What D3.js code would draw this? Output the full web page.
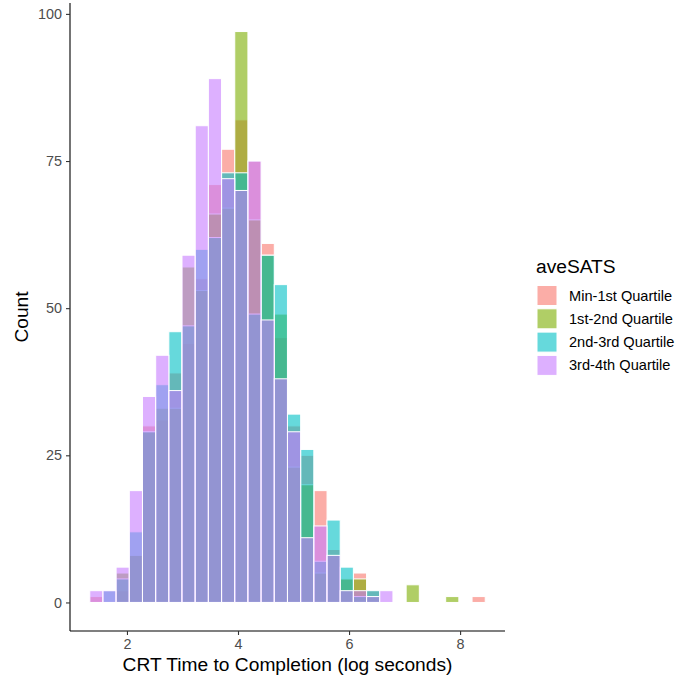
<!DOCTYPE html>
<html>
<head>
<meta charset="utf-8">
<script src="https://cdn.jsdelivr.net/npm/d3@7"></script>
<style>
  html, body { margin: 0; padding: 0; background: #ffffff; }
  svg { display: block; font-family: "Liberation Sans", Arial, Helvetica, sans-serif; }
</style>
</head>
<body>
<svg id="chart" width="676" height="683"></svg>
<script>
// Histogram bins (log seconds): 30 equal-width bins
const binWidth = 0.2374;
const binCenters = [1.449, 1.686, 1.923, 2.161, 2.398, 2.636, 2.873, 3.110, 3.348, 3.585,
                    3.823, 4.060, 4.298, 4.535, 4.772, 5.010, 5.247, 5.485, 5.722, 5.959,
                    6.197, 6.434, 6.672, 6.909, 7.147, 7.384, 7.621, 7.859, 8.096, 8.334];

// Counts per bin for each aveSATS group
const minTo1st   = [1, 0, 2, 8, 30, 31, 39, 44, 55, 71, 77, 82, 75, 61, 45, 30, 25, 19, 9, 4, 5, 2, 0, 0, 0, 0, 0, 0, 0, 1];
const first2nd   = [0, 0, 5, 8, 29, 33, 33, 57, 53, 66, 67, 97, 65, 59, 49, 23, 20, 5, 8, 4, 4, 1, 0, 0, 3, 0, 0, 1, 0, 0];
const second3rd  = [0, 2, 4, 12, 29, 37, 46, 47, 60, 62, 73, 73, 49, 59, 54, 32, 26, 7, 14, 6, 1, 2, 0, 0, 0, 0, 0, 0, 0, 0];
const third4th   = [2, 2, 6, 19, 35, 42, 36, 59, 81, 89, 72, 70, 75, 48, 38, 29, 11, 13, 8, 2, 2, 1, 2, 0, 0, 0, 0, 0, 0, 0];

const groupNames  = ["Min-1st Quartile", "1st-2nd Quartile", "2nd-3rd Quartile", "3rd-4th Quartile"];
const groupCounts = [minTo1st, first2nd, second3rd, third4th];
const groupColors = ["#F8766D", "#7CAE00", "#00BFC4", "#C77CFF"];

const xTicks = [2, 4, 6, 8];
const yTicks = [0, 25, 50, 75, 100];

const svg = d3.select("#chart");

// Panel extent
const panel = { left: 70, right: 505, top: 3, bottom: 631 };

const xMin = binCenters[0] - binWidth / 2;
const xMax = binCenters[binCenters.length - 1] + binWidth / 2;
const xPad = (xMax - xMin) * 0.05;
const yMax = d3.max(groupCounts.flat());
const yPad = yMax * 0.05;

const x = d3.scaleLinear().domain([xMin - xPad, xMax + xPad]).range([panel.left, panel.right]);
const y = d3.scaleLinear().domain([-yPad, yMax + yPad]).range([panel.bottom, panel.top]);

const color = d3.scaleOrdinal().domain(groupNames).range(groupColors);

// Overlapping bars, drawn group by group
const bars = svg.append("g");
groupNames.forEach((name, gi) => {
  const rows = binCenters.map((c, i) => ({ c, n: groupCounts[gi][i] })).filter(d => d.n > 0);
  bars.append("g")
    .selectAll("rect")
    .data(rows)
    .join("rect")
    .attr("x", d => x(d.c - binWidth / 2))
    .attr("width", d => x(d.c + binWidth / 2) - x(d.c - binWidth / 2))
    .attr("y", d => y(d.n))
    .attr("height", d => y(0) - y(d.n))
    .attr("fill", color(name))
    .attr("fill-opacity", 0.6)
    .attr("stroke", "#ffffff")
    .attr("stroke-width", 1);
});

// Axes
const xAxis = svg.append("g")
  .attr("transform", `translate(0,${panel.bottom})`)
  .call(d3.axisBottom(x).tickValues(xTicks).tickFormat(d3.format("d")).tickSizeOuter(0).tickSize(4).tickPadding(4));
const yAxis = svg.append("g")
  .attr("transform", `translate(${panel.left},0)`)
  .call(d3.axisLeft(y).tickValues(yTicks).tickFormat(d3.format("d")).tickSizeOuter(0).tickSize(4).tickPadding(4));

[xAxis, yAxis].forEach(a => {
  a.select(".domain").attr("stroke", "#000000").attr("stroke-width", 1.1);
  a.selectAll(".tick line").attr("stroke", "#333333").attr("stroke-width", 1.1);
  a.selectAll(".tick text")
    .attr("fill", "#4D4D4D")
    .style("font-size", "14.4px")
    .style("font-family", "'Liberation Sans', Arial, sans-serif");
});
// extend axis lines across the full panel
xAxis.select(".domain").attr("d", `M${panel.left},0H${panel.right}`);
yAxis.select(".domain").attr("d", `M0,${panel.top}V${panel.bottom}`);

// Axis titles
svg.append("text")
  .attr("x", (panel.left + panel.right) / 2)
  .attr("y", 671)
  .attr("text-anchor", "middle")
  .style("font-size", "19.2px")
  .attr("fill", "#000000")
  .text("CRT Time to Completion (log seconds)");

svg.append("text")
  .attr("transform", `translate(28,${(panel.top + panel.bottom) / 2}) rotate(-90)`)
  .attr("text-anchor", "middle")
  .style("font-size", "19.2px")
  .attr("fill", "#000000")
  .text("Count");

// Legend
const legend = svg.append("g").attr("transform", "translate(536,0)");
legend.append("text")
  .attr("x", 0)
  .attr("y", 273)
  .style("font-size", "19.2px")
  .attr("fill", "#000000")
  .text("aveSATS");

const keys = legend.selectAll("g.key")
  .data(groupNames)
  .join("g")
  .attr("class", "key")
  .attr("transform", (d, i) => `translate(0,${285.5 + i * 23.3})`);
keys.append("rect")
  .attr("x", 1).attr("y", 0)
  .attr("width", 20).attr("height", 20)
  .attr("fill", d => color(d))
  .attr("fill-opacity", 0.6)
  .attr("stroke", "#ffffff")
  .attr("stroke-width", 1);
keys.append("text")
  .attr("x", 33)
  .attr("y", 15)
  .style("font-size", "14.6px")
  .attr("fill", "#000000")
  .text(d => d);
</script>
</body>
</html>
